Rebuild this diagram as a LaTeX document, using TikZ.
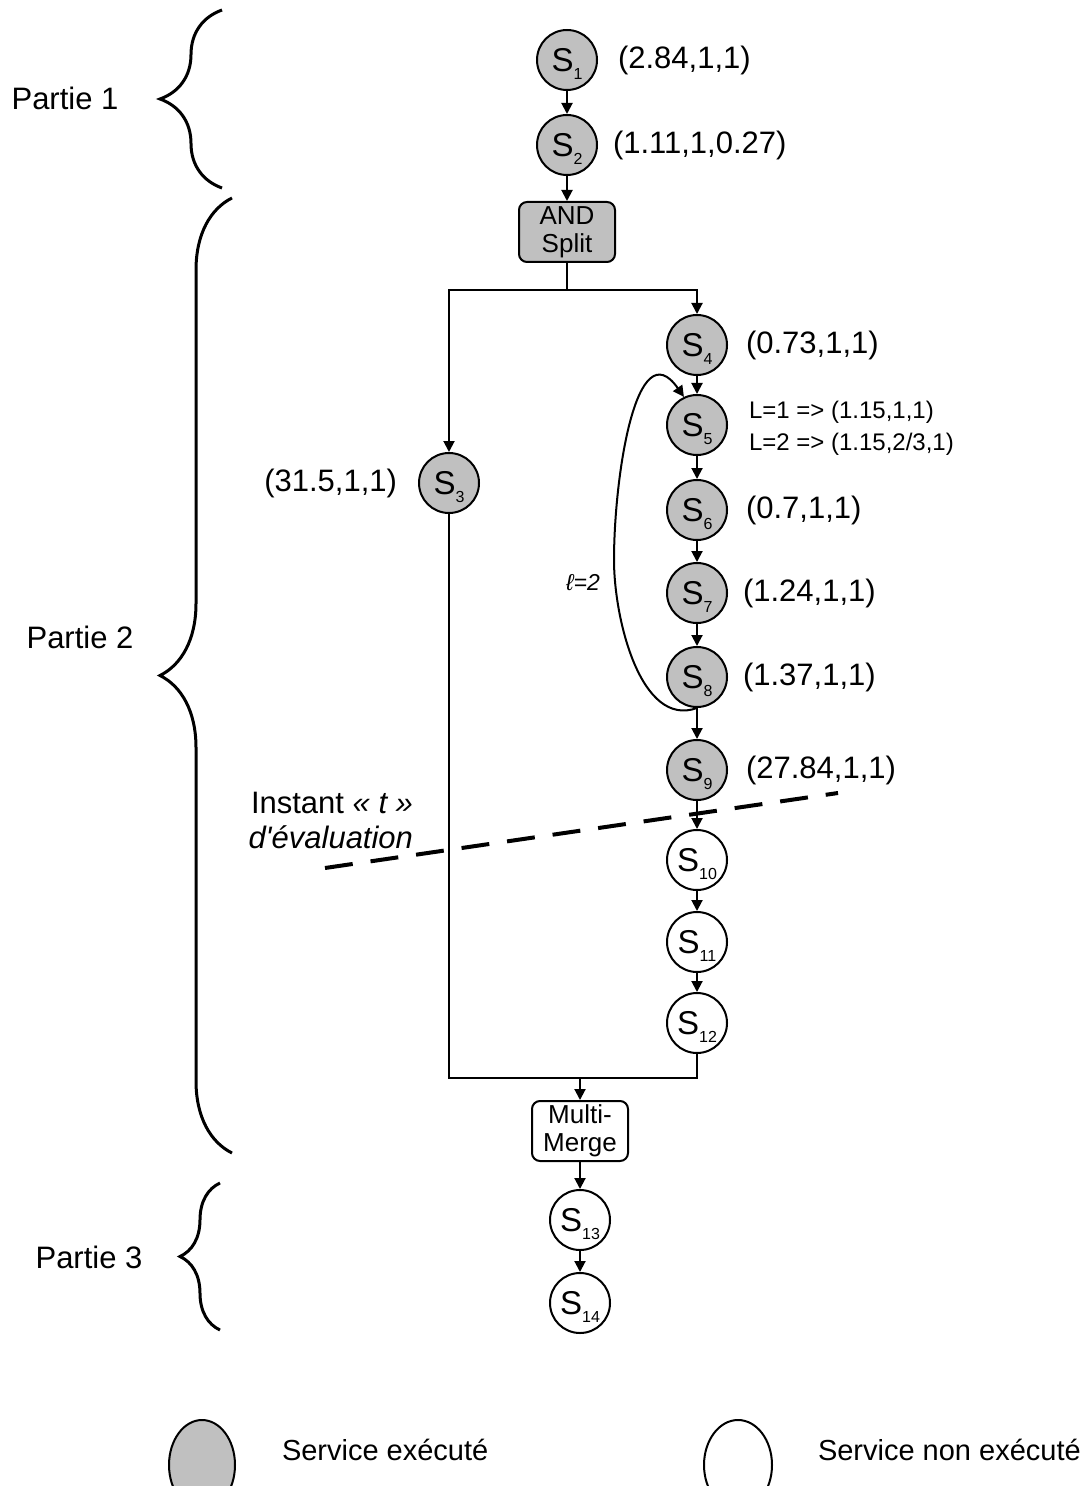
\documentclass[tikz,border=0pt]{standalone}
\usepackage{fontspec}
\setmainfont{Liberation Sans}
\usetikzlibrary{arrows.meta, decorations.pathreplacing, shapes.geometric}

\definecolor{execgray}{RGB}{192,192,192}
\newcommand{\svc}[1]{S\raisebox{-4pt}[0pt][0pt]{\fontsize{8}{9}\selectfont #1}}

\begin{document}
\begin{tikzpicture}[x=0.5pt, y=-0.5pt, line width=1pt, >={Triangle[length=5.5pt, width=5.5pt]},
    done/.style={circle, draw, fill=execgray, minimum size=30pt, inner sep=0pt, font=\fontsize{16.5}{18}\selectfont},
    todo/.style={done, fill=white},
    gate/.style={rectangle, rounded corners=4pt, draw, align=center, inner sep=0pt, minimum width=48pt, minimum height=30pt, font=\fontsize{13}{14}\selectfont},
    val/.style={anchor=west, inner sep=0pt, font=\fontsize{15.5}{18}\selectfont},
    part/.style={inner sep=0pt, font=\fontsize{15.5}{18}\selectfont},
    partbrace/.style={decorate, line width=1.5pt, decoration={brace, amplitude=#1}}]
    \useasboundingbox (0,0) rectangle (1088,1486);

    % sequence before the split
    \node[done] (s1) at (567,60) {\svc{1}};
    \node[done] (s2) at (567,145) {\svc{2}};
    \node[gate, fill=execgray] (split) at (567,232) {AND\\Split};
    \node[val] (v1) at (617,60) {(2.84,1,1)};
    \node[val] (v2) at (612,145) {(1.11,1,0.27)};
    \draw[->] (s1) -- (s2);
    \draw[->] (s2) -- (split);

    % the two branches
    \coordinate (fork) at (567,290);
    \node[done] (s3) at (449,483) {\svc{3}};
    \node[val, anchor=east] (v3) at (398,483) {(31.5,1,1)};
    \foreach \n/\y in {4/345, 5/425, 6/510, 7/593, 8/677, 9/770} {
        \node[done] (s\n) at (697,\y) {\svc{\n}};
    }
    \foreach \n/\y in {10/860, 11/942, 12/1023} {
        \node[todo] (s\n) at (697,\y) {\svc{\n}};
    }
    \draw (split) -- (fork);
    \draw[->] (fork) -| (s4);
    \draw[->] (fork) -| (s3);
    \foreach \a/\b in {4/5, 5/6, 6/7, 7/8, 8/9, 9/10, 10/11, 11/12} {
        \draw[->] (s\a) -- (s\b);
    }

    \node[val] (v4) at (745,345) {(0.73,1,1)};
    \node[val, align=left, font=\fontsize{12}{16}\selectfont] (v5) at (748,428) {L=1 => (1.15,1,1)\\L=2 => (1.15,2/3,1)};
    \node[val] (v6) at (745,510) {(0.7,1,1)};
    \node[val] (v7) at (742,593) {(1.24,1,1)};
    \node[val] (v8) at (742,677) {(1.37,1,1)};
    \node[val] (v9) at (745,770) {(27.84,1,1)};

    % loop back to S5
    \coordinate (loopleft) at (614,560);
    \draw[->] (s8.south) to[out=200, in=270, looseness=0.9] (loopleft) to[out=90, in=125, looseness=1.2] (s5.115);
    \node[inner sep=0pt, font=\fontsize{11.5}{13}\selectfont\itshape] (loop) at (583,583) {ℓ=2};

    % merge and the end
    \coordinate (join) at (580,1078);
    \node[gate] (merge) at (580,1131) {Multi-\\Merge};
    \node[todo] (s13) at (580,1220) {\svc{13}};
    \node[todo] (s14) at (580,1303) {\svc{14}};
    \draw (s3) |- (join);
    \draw (s12) |- (join);
    \draw[->] (join) -- (merge);
    \draw[->] (merge) -- (s13);
    \draw[->] (s13) -- (s14);

    % evaluation instant
    \coordinate (cutA) at (325,868);
    \coordinate (cutB) at (838,793);
    \draw[line width=2pt, dash pattern=on 14pt off 9pt] (cutA) -- (cutB);
    \node[part, anchor=east, align=right, font=\fontsize{15.5}{17.5}\selectfont] (instant) at (414,820) {Instant \textit{« t »}\\\textit{d\textquotesingle évaluation}};

    % parts
    \draw[partbrace=31pt] (222,188) -- (222,10);
    \draw[partbrace=36pt] (232,1153) -- (232,198);
    \draw[partbrace=20pt] (220,1330) -- (220,1183);
    \node[part] (p1) at (65,98) {Partie 1};
    \node[part] (p2) at (80,637) {Partie 2};
    \node[part] (p3) at (89,1257) {Partie 3};

    % legend
    \node[ellipse, draw, fill=execgray, minimum width=33pt, minimum height=45pt] (keydone) at (202,1465) {};
    \node[part, anchor=west, font=\fontsize{14.5}{17}\selectfont] (keydonetxt) at (281,1450) {Service exécuté};
    \node[ellipse, draw, minimum width=34pt, minimum height=45pt] (keytodo) at (738,1465) {};
    \node[part, anchor=west, font=\fontsize{14.5}{17}\selectfont] (keytodotxt) at (817,1450) {Service non exécuté};
\end{tikzpicture}
\end{document}
